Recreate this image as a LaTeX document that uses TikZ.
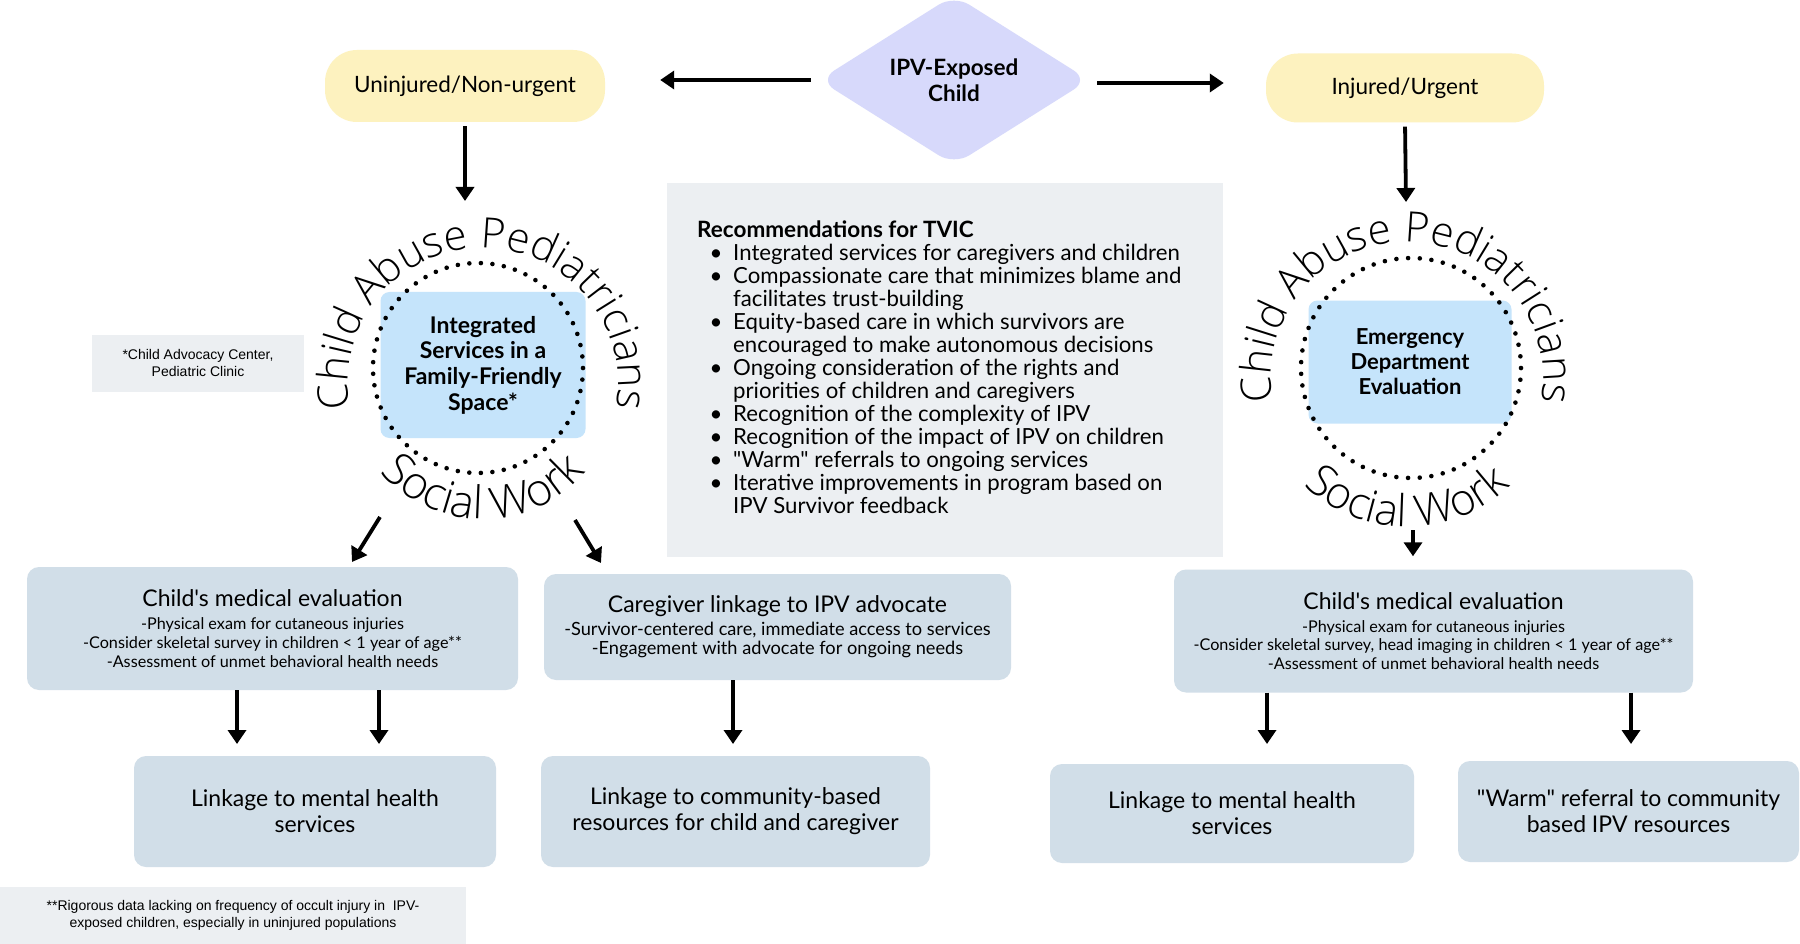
\documentclass[tikz,border=0pt]{standalone}
\usepackage{fontspec}
\setmainfont{Lato}
\newfontfamily\plainlato{Lato}
\newfontfamily\thinfont{Open Sans Light}
\newfontfamily\notefont{Liberation Sans}
\usetikzlibrary{arrows.meta,shapes.geometric,decorations.text}
\definecolor{pillY}{HTML}{FDF2BF}
\definecolor{diaP}{HTML}{D7D9FB}
\definecolor{skyB}{HTML}{C5E4FB}
\definecolor{steel}{HTML}{D1DEE8}
\definecolor{greyB}{HTML}{ECEFF2}
\begin{document}
\plainlato
\begin{tikzpicture}[x=1pt,y=1pt,
  arr/.style={line width=3.8pt,-{Triangle[width=18pt,length=14pt]}},
  pill/.style={fill=pillY,rounded corners=32pt,inner sep=0pt,font=\fontsize{22.5}{26}\selectfont},
  skybox/.style={fill=skyB,rounded corners=9pt,inner sep=0pt,align=center},
  dotring/.style={circle,draw=black,inner sep=0pt,line width=4.6pt,line cap=round},
  sbox/.style={fill=steel,rounded corners=12pt,inner sep=0pt,align=center},
  note/.style={fill=greyB,inner sep=0pt,align=center},
  arc text/.style 2 args={decorate,decoration={text along path,text align=center,text={|\thinfont\fontsize{#1}{#1}\selectfont|#2}}}
]
\useasboundingbox (0,0) rectangle (1800,-944);
\fill[white] (0,0) rectangle (1800,-944);

% top row
\node[pill,minimum width=280pt,minimum height=72pt] (unin) at (465,-86) {Uninjured/Non-urgent};
\node[pill,minimum width=278pt,minimum height=69pt] (inj) at (1405,-88) {Injured/Urgent};
\node[diamond,aspect=1.62,fill=diaP,rounded corners=18pt,minimum width=270pt,minimum height=170pt,inner sep=0pt,align=center,font=\bfseries\fontsize{22.5}{25.5}\selectfont] (dia) at (954,-80) {IPV-Exposed\\Child};

\draw[arr,shorten <=8pt,shorten >=55pt] ([yshift=0pt]dia.west) -- ([yshift=0pt]dia.west -| unin.east);
\draw[arr,shorten <=8pt,shorten >=42pt] ([yshift=-3pt]dia.east) -- ([yshift=-3pt]dia.east -| inj.west);

\coordinate (lct) at (465,-201);
\coordinate (rct) at (1406,-202);
\draw[arr,shorten <=4pt] (unin.south) -- (lct);
\draw[arr,shorten <=4pt] (inj.south) -- (rct);

% left circle
\node[skybox,minimum width=205pt,minimum height=146pt,font=\bfseries\fontsize{23}{25.7}\selectfont] (lbox) at (483,-365) {Integrated\\Services in a\\Family-Friendly\\Space*};
\node[dotring,minimum size=210pt,dash pattern=on 0pt off 11.574pt] (lring) at (478,-368) {};
\coordinate (lc) at (483,-383);
\path[arc text={42}{Child Abuse Pediatricians}] (lc) ++(200:135) arc[start angle=200,end angle=-20,radius=135];
\path[arc text={45}{Social Work}] (lc) ++(200:136) arc[start angle=200,end angle=340,radius=136];

% right circle
\node[skybox,minimum width=203pt,minimum height=123pt,font=\bfseries\fontsize{22}{25}\selectfont] (rbox) at (1410,-362) {Emergency\\Department\\Evaluation};
\node[dotring,minimum size=220pt,dash pattern=on 0pt off 11.714pt] (rring) at (1411,-368) {};
\coordinate (rc) at (1407,-378);
\path[arc text={42}{Child Abuse Pediatricians}] (rc) ++(200:136) arc[start angle=200,end angle=-20,radius=136];
\path[arc text={44}{Social Work}] (rc) ++(200:149) arc[start angle=200,end angle=340,radius=149];

% footnote 1
\node[note,minimum width=212pt,minimum height=57pt,font=\notefont\fontsize{14}{17}\selectfont] (fn1) at (198,-363) {*Child Advocacy Center,\\Pediatric Clinic};

% recommendations
\node[fill=greyB,minimum width=556pt,minimum height=373pt,inner sep=0pt] (rec) at (944.5,-370) {};
\node[anchor=base west,inner sep=0pt,font=\bfseries\fontsize{22.5}{23}\selectfont] (rtitle) at (697,-238) {Recommendations for TVIC};
\foreach \k/\b/\t in {
 1/1/Integrated services for caregivers and children,
 2/1/Compassionate care that minimizes blame and,
 3/0/facilitates trust-building,
 4/1/Equity-based care in which survivors are,
 5/0/encouraged to make autonomous decisions,
 6/1/Ongoing consideration of the rights and,
 7/0/priorities of children and caregivers,
 8/1/Recognition of the complexity of IPV,
 9/1/Recognition of the impact of IPV on children,
 10/1/"Warm" referrals to ongoing services,
 11/1/Iterative improvements in program based on,
 12/0/IPV Survivor feedback}{
  \node[anchor=base west,inner sep=0pt,font=\fontsize{22.2}{23}\selectfont] (rl\k) at (733,-238-22.95*\k) {\t};
  \ifnum\b=1
    \node[anchor=base,inner sep=0pt,font=\fontsize{22.2}{23}\selectfont] (rb\k) at (716,-238-22.95*\k) {\textbullet};
  \fi
}

% diagonal arrows from left circle
\coordinate (ld1) at (380,-517);
\coordinate (ld2) at (352,-562);
\coordinate (rd1) at (575,-520);
\coordinate (rd2) at (601,-563);
\draw[arr] (ld1) -- (ld2);
\draw[arr] (rd1) -- (rd2);

% second row boxes
\node[sbox,minimum width=491pt,minimum height=123pt,font=\fontsize{16.2}{18.6}\selectfont] (cme1) at (272.5,-628.5)
 {{\fontsize{23}{23}\selectfont Child's medical evaluation}\\[4.5pt]-Physical exam for cutaneous injuries\\-Consider skeletal survey in children < 1 year of age**\\-Assessment of unmet behavioral health needs};
\node[sbox,minimum width=467pt,minimum height=106pt,font=\fontsize{18.2}{19.2}\selectfont] (cgl) at (777.5,-627)
 {{\fontsize{23}{23}\selectfont Caregiver linkage to IPV advocate}\\[3.5pt]-Survivor-centered care, immediate access to services\\-Engagement with advocate for ongoing needs};
\node[sbox,minimum width=519pt,minimum height=123pt,font=\fontsize{16.2}{18.6}\selectfont] (cme2) at (1433.5,-631)
 {{\fontsize{23}{23}\selectfont Child's medical evaluation}\\[4.5pt]-Physical exam for cutaneous injuries\\-Consider skeletal survey, head imaging in children < 1 year of age**\\-Assessment of unmet behavioral health needs};

\coordinate (rsw) at (1413,-530);
\draw[arr,shorten >=13pt] (rsw) -- (rsw |- cme2.north);

% third row boxes
\node[sbox,minimum width=362pt,minimum height=111pt,font=\fontsize{23}{26}\selectfont] (lm) at (315,-811.5) {Linkage to mental health\\services};
\node[sbox,minimum width=389pt,minimum height=111pt,font=\fontsize{23}{26}\selectfont] (cm) at (735.5,-811.5) {Linkage to community-based\\resources for child and caregiver};
\node[sbox,minimum width=364pt,minimum height=99pt,font=\fontsize{23}{26}\selectfont] (rm) at (1232,-813.5) {Linkage to mental health\\services};
\node[sbox,minimum width=341pt,minimum height=101pt,font=\fontsize{23}{26}\selectfont] (wr) at (1628.5,-811.5) {"Warm" referral to community\\based IPV resources};

\coordinate (a1) at (237,-744);
\coordinate (a2) at (379,-744);
\coordinate (a3) at (733,-744);
\coordinate (a4) at (1267,-744);
\coordinate (a5) at (1631,-744);
\draw[arr] (a1 |- cme1.south) -- (a1);
\draw[arr] (a2 |- cme1.south) -- (a2);
\draw[arr] (a3 |- cgl.south) -- (a3);
\draw[arr] (a4 |- cme2.south) -- (a4);
\draw[arr] (a5 |- cme2.south) -- (a5);

% footnote 2
\node[note,minimum width=466pt,minimum height=57pt,font=\notefont\fontsize{14}{17}\selectfont] (fn2) at (233,-915.5) {**Rigorous data lacking on frequency of occult injury in\ \ IPV-\\exposed children, especially in uninjured populations};
\end{tikzpicture}
\end{document}
